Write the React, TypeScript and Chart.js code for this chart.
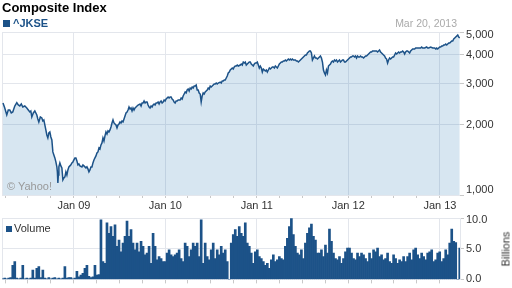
import React, { useEffect, useRef } from "react";
import { Chart, registerables } from "chart.js";

Chart.register(...registerables);

const FONT = "'Liberation Sans', Arial, Helvetica, sans-serif";
const LINE = "#1c5288";
const FILL = "rgba(40,120,180,0.19)";
const GRID = "#e3e6ec";
const TICK = "#c8c8c8";

// x axis: days counted from 2008-03-20
const START = Date.UTC(2008, 2, 20);
const END_DAY = 1828;
const dayOf = (y: number, m: number, d: number) =>
  Math.round((Date.UTC(y, m - 1, d) - START) / 86400000);

const tickYears = [2008, 2009, 2010, 2011, 2012, 2013];
const tickMonths = [1, 4, 7, 10];
const priceTicks = [1000, 2000, 3000, 4000, 5000];
const volumeTicks = [0, 5, 10];

// [day, close]
const priceSeries: [number, number][] = [
  [4, 2481], [11, 2361], [19, 2204], [25, 2315], [31, 2315], [37, 2248], [43, 2270], [51, 2408], [59, 2490], [65, 2432],
  [71, 2408], [77, 2456], [83, 2385], [91, 2408], [99, 2361], [105, 2315], [111, 2270], [115, 2292], [119, 2161], [125, 2248],
  [131, 2292], [139, 2204], [143, 2119], [147, 2057], [153, 2161], [159, 2140], [163, 2077], [167, 2098], [171, 1997], [175, 1901],
  [179, 1809], [183, 1757], [187, 1845], [191, 1864], [195, 1774], [199, 1722], [203, 1530], [207, 1485], [211, 1442], [215, 1386],
  [219, 1320], [221, 1256], [223, 1127], [225, 1219], [227, 1320], [231, 1373], [235, 1333], [239, 1307], [243, 1161], [247, 1184],
  [251, 1196], [255, 1256], [259, 1219], [263, 1281], [267, 1320], [271, 1333], [275, 1346], [279, 1373], [283, 1386], [287, 1414],
  [291, 1442], [295, 1442], [299, 1400], [303, 1346], [307, 1359], [311, 1333], [319, 1320], [323, 1346], [327, 1333], [331, 1320],
  [335, 1307], [339, 1320], [343, 1294], [347, 1256], [351, 1281], [355, 1320], [359, 1320], [363, 1373], [367, 1414], [371, 1442],
  [375, 1471], [379, 1515], [383, 1530], [387, 1592], [391, 1576], [395, 1640], [399, 1672], [403, 1757], [407, 1705], [411, 1792],
  [415, 1864], [419, 1827], [423, 1882], [427, 1864], [431, 1901], [435, 1958], [439, 2037], [443, 2098], [447, 2037], [451, 2017],
  [455, 1997], [459, 1939], [463, 1997], [467, 2017], [471, 2057], [475, 2037], [479, 2077], [483, 2057], [487, 2119], [491, 2182],
  [495, 2248], [499, 2270], [503, 2315], [507, 2385], [511, 2338], [515, 2361], [519, 2292], [523, 2361], [527, 2315], [531, 2361],
  [535, 2385], [539, 2408], [543, 2432], [551, 2456], [555, 2408], [559, 2481], [563, 2481], [567, 2530], [571, 2481], [575, 2505],
  [579, 2505], [583, 2432], [587, 2385], [591, 2361], [595, 2408], [599, 2385], [603, 2432], [607, 2456], [611, 2432], [615, 2481],
  [619, 2481], [623, 2505], [627, 2456], [631, 2505], [635, 2530], [639, 2481], [643, 2505], [647, 2555], [651, 2530], [655, 2580],
  [659, 2606], [663, 2632], [667, 2606], [671, 2632], [675, 2632], [679, 2580], [683, 2555], [687, 2505], [691, 2481], [695, 2530],
  [699, 2530], [703, 2555], [707, 2555], [711, 2555], [715, 2606], [719, 2580], [723, 2658], [727, 2711], [731, 2765], [735, 2738],
  [739, 2820], [743, 2848], [747, 2792], [751, 2876], [755, 2848], [759, 2905], [763, 2876], [767, 2933], [771, 2933], [775, 2963],
  [779, 2820], [783, 2820], [787, 2738], [791, 2711], [795, 2505], [799, 2658], [803, 2738], [807, 2711], [811, 2765], [815, 2792],
  [819, 2820], [823, 2876], [827, 2848], [831, 2933], [835, 2905], [839, 2933], [847, 2992], [851, 2992], [855, 3022], [859, 2992],
  [863, 3022], [871, 3051], [875, 3022], [879, 3082], [883, 3082], [887, 3112], [891, 3112], [895, 3174], [899, 3238], [903, 3335],
  [907, 3368], [911, 3435], [915, 3469], [919, 3504], [923, 3469], [927, 3538], [931, 3573], [935, 3573], [939, 3609], [943, 3573],
  [951, 3609], [955, 3645], [959, 3609], [963, 3717], [967, 3681], [971, 3717], [975, 3609], [979, 3645], [983, 3681], [987, 3717],
  [991, 3717], [995, 3645], [999, 3609], [1003, 3573], [1007, 3645], [1011, 3681], [1015, 3681], [1019, 3717], [1023, 3609], [1027, 3504],
  [1031, 3573], [1035, 3504], [1039, 3368], [1043, 3469], [1047, 3435], [1051, 3401], [1055, 3435], [1059, 3368], [1063, 3435], [1067, 3504],
  [1071, 3469], [1075, 3504], [1079, 3538], [1083, 3538], [1087, 3504], [1091, 3573], [1095, 3538], [1099, 3504], [1103, 3573], [1107, 3645],
  [1111, 3681], [1115, 3717], [1119, 3717], [1123, 3754], [1127, 3754], [1131, 3792], [1135, 3754], [1139, 3792], [1143, 3829], [1147, 3792],
  [1151, 3829], [1155, 3792], [1159, 3829], [1163, 3792], [1167, 3792], [1171, 3792], [1175, 3754], [1179, 3754], [1183, 3717], [1187, 3754],
  [1191, 3792], [1195, 3829], [1199, 3867], [1203, 3906], [1207, 3944], [1211, 3984], [1215, 3984], [1219, 4063], [1223, 4103], [1227, 4144],
  [1231, 4144], [1235, 4063], [1239, 3792], [1243, 3867], [1247, 3944], [1251, 3867], [1255, 3867], [1259, 3829], [1263, 3867], [1267, 3906],
  [1271, 3944], [1275, 3867], [1279, 3717], [1283, 3435], [1287, 3335], [1291, 3270], [1295, 3435], [1299, 3335], [1303, 3573], [1307, 3609],
  [1311, 3645], [1315, 3717], [1319, 3754], [1323, 3717], [1327, 3792], [1331, 3754], [1335, 3792], [1339, 3717], [1343, 3754], [1347, 3792],
  [1351, 3717], [1355, 3754], [1359, 3792], [1363, 3792], [1367, 3717], [1371, 3717], [1375, 3754], [1379, 3792], [1383, 3829], [1387, 3867],
  [1391, 3906], [1395, 3906], [1399, 3944], [1403, 3944], [1407, 3906], [1411, 3944], [1415, 3867], [1419, 3944], [1423, 3906], [1427, 3906],
  [1431, 3944], [1435, 3906], [1439, 3906], [1443, 3867], [1447, 3906], [1451, 3944], [1455, 3944], [1459, 3984], [1463, 4023], [1467, 4063],
  [1471, 4103], [1475, 4103], [1479, 4144], [1487, 4144], [1495, 4144], [1499, 4103], [1503, 4144], [1507, 4185], [1511, 4103], [1515, 4063],
  [1519, 4023], [1523, 3984], [1527, 3944], [1531, 3867], [1535, 3829], [1539, 3681], [1543, 3792], [1547, 3867], [1551, 3829], [1555, 3867],
  [1559, 3906], [1563, 3906], [1567, 3984], [1571, 4063], [1575, 4023], [1579, 4063], [1583, 4103], [1587, 4063], [1591, 4103], [1595, 4103],
  [1599, 4144], [1603, 4103], [1607, 4023], [1611, 4103], [1615, 4144], [1619, 4144], [1623, 4103], [1627, 4063], [1631, 4144], [1635, 4185],
  [1639, 4227], [1643, 4227], [1647, 4227], [1651, 4269], [1655, 4269], [1663, 4269], [1671, 4269], [1675, 4311], [1679, 4269], [1687, 4269],
  [1695, 4311], [1699, 4269], [1703, 4269], [1711, 4311], [1719, 4269], [1727, 4269], [1731, 4227], [1735, 4269], [1739, 4227], [1743, 4269],
  [1747, 4311], [1751, 4311], [1755, 4354], [1759, 4354], [1763, 4397], [1767, 4397], [1771, 4441], [1775, 4397], [1779, 4441], [1783, 4485],
  [1787, 4485], [1791, 4530], [1795, 4575], [1799, 4575], [1803, 4666], [1807, 4712], [1811, 4759], [1815, 4806], [1819, 4854], [1823, 4759],
  [1827, 4712],
];

// volume in billions, one bar every 8 days starting at day 3
const VOLUME_FIRST_DAY = 3;
const VOLUME_STEP_DAYS = 8;
const volumeValues = [
  0.1, 0.2, 0.1, 0.2, 0.3, 2.3, 2.9, 0.2, 0.1, 0.2,
  2.3, 0.1, 0.2, 0.1, 0.2, 1.5, 0.2, 1.8, 2.1, 0.3,
  1.5, 0.2, 0.1, 0.3, 0.1, 0.2, 0.3, 0.1, 0.2, 0.1,
  0.2, 2.1, 0.2, 0.3, 0.3, 0.1, 0.2, 1.3, 0.4, 0.7,
  1.0, 1.8, 2.3, 0.5, 0.3, 0.4, 2.3, 0.7, 0.8, 9.7,
  2.9, 2.6, 9.2, 7.5, 8.6, 7.0, 8.9, 5.4, 6.4, 4.5,
  5.9, 7.0, 9.5, 7.0, 8.1, 5.9, 4.8, 5.9, 4.5, 6.2,
  5.4, 4.0, 4.3, 5.4, 2.6, 7.5, 5.4, 3.2, 3.7, 3.4,
  2.9, 2.9, 4.3, 4.8, 4.0, 3.7, 4.0, 4.3, 4.8, 3.4,
  2.9, 5.9, 5.4, 3.7, 4.8, 5.9, 5.4, 5.9, 3.7, 9.7,
  2.6, 5.9, 3.7, 3.2, 4.8, 5.9, 3.4, 4.8, 4.0, 5.4,
  4.3, 4.8, 2.9, 0, 5.9, 7.3, 8.1, 7.0, 8.6, 7.5,
  7.0, 9.2, 5.9, 5.4, 4.3, 2.6, 4.5, 4.8, 3.7, 3.4,
  2.9, 2.3, 2.6, 1.8, 3.2, 4.0, 2.9, 3.2, 3.7, 3.4,
  3.2, 5.4, 6.7, 8.6, 9.9, 7.3, 5.4, 4.3, 4.0, 4.8,
  3.4, 5.9, 7.5, 8.4, 9.0, 7.0, 6.4, 4.3, 4.3, 4.8,
  3.7, 5.6, 4.3, 8.2, 6.2, 4.3, 3.4, 3.2, 3.7, 2.6,
  3.4, 4.5, 5.1, 5.1, 4.3, 3.4, 3.2, 4.3, 3.7, 4.3,
  4.0, 3.4, 2.9, 4.3, 3.4, 4.8, 4.5, 5.1, 3.7, 4.0,
  3.2, 3.4, 4.3, 2.9, 2.6, 4.0, 3.4, 2.6, 3.2, 2.9,
  3.7, 2.9, 3.7, 4.3, 3.2, 4.8, 5.1, 4.0, 3.4, 4.3,
  3.7, 3.2, 4.3, 4.5, 4.8, 2.9, 3.2, 4.3, 4.5, 2.9,
  3.4, 4.8, 4.0, 5.9, 8.2, 6.2, 6.0, 0, 5.1,
];

const janTicks = tickYears
  .map((y) => ({ day: dayOf(y, 1, 1), label: `Jan ${String(y).slice(2)}` }))
  .filter((t) => t.day > 0 && t.day <= END_DAY);
const quarterTicks = tickYears
  .flatMap((y) => tickMonths.map((m) => dayOf(y, m, 1)))
  .filter((d) => d > 0 && d <= END_DAY);
const xTickValues = [0, ...quarterTicks];
const janLabel = (v: number) => {
  const t = janTicks.find((j) => j.day === v);
  return t ? t.label : "";
};
const isGridDay = (v: number) => v === 0 || janTicks.some((j) => j.day === v);

// edge labels are nudged inward like the original: two-line label + small line height
function edgeLabel(text: string, atTop: boolean, atBottom: boolean) {
  if (atTop) return ["", text];
  if (atBottom) return [text, ""];
  return text;
}
function edgeFont(value: number, top: number, bottom: number, topShift: number, bottomShift: number) {
  let lh: any = 1.2;
  if (value === top) lh = `${topShift * 2}px`;
  else if (value === bottom) lh = `${bottomShift * 2}px`;
  return { size: 11, family: FONT, lineHeight: lh };
}

function xScale(height: number, showLabels: boolean, tickLength: number) {
  return {
    type: "linear" as const,
    min: 0,
    max: END_DAY,
    offset: false,
    afterBuildTicks: (s: any) => {
      s.ticks = xTickValues.map((v) => ({ value: v }));
    },
    afterFit: (s: any) => {
      s.height = height;
    },
    grid: {
      offset: false,
      color: (c: any) => (c.tick && isGridDay(c.tick.value) ? GRID : "rgba(0,0,0,0)"),
      tickColor: (c: any) => (c.tick && c.tick.value === 0 ? "rgba(0,0,0,0)" : TICK),
      tickLength,
      drawTicks: true,
    },
    border: { display: false },
    ticks: {
      display: showLabels,
      autoSkip: false,
      maxRotation: 0,
      minRotation: 0,
      padding: 1,
      color: "#333",
      font: { size: 11, family: FONT },
      callback: (v: any) => janLabel(Number(v)),
    },
  };
}

export default function App() {
  const mainRef = useRef<HTMLCanvasElement>(null);
  const volRef = useRef<HTMLCanvasElement>(null);

  useEffect(() => {
    Chart.defaults.font.family = FONT;
    Chart.defaults.font.size = 11;
    Chart.defaults.color = "#333";

    const main = new Chart(mainRef.current as HTMLCanvasElement, {
      type: "line",
      data: {
        datasets: [
          {
            data: priceSeries.map(([d, v]) => ({ x: d, y: v })),
            borderColor: LINE,
            borderWidth: 1.5,
            backgroundColor: FILL,
            fill: "start",
            pointRadius: 0,
            tension: 0,
          },
        ],
      },
      options: {
        animation: false,
        responsive: false,
        devicePixelRatio: 1,
        layout: { padding: { left: 2, right: 0, top: 32, bottom: 0 } },
        plugins: { legend: { display: false }, tooltip: { enabled: false }, title: { display: false } },
        scales: {
          x: xScale(15, true, 3) as any,
          y: {
            type: "logarithmic",
            position: "right",
            min: 1000,
            max: 5000,
            afterBuildTicks: (s: any) => {
              s.ticks = priceTicks.map((v) => ({ value: v }));
            },
            afterFit: (s: any) => {
              s.width = 52;
            },
            grid: { color: GRID, tickColor: TICK, tickLength: 4, drawTicks: true },
            border: { display: false },
            ticks: {
              padding: 2,
              color: "#333",
              font: (c: any) => edgeFont(c.tick ? c.tick.value : 0, 5000, 1000, 3, 5),
              callback: (v: any) =>
                edgeLabel(Number(v).toLocaleString("en-US"), Number(v) === 5000, Number(v) === 1000),
            },
          } as any,
        },
      },
    });

    const vol = new Chart(volRef.current as HTMLCanvasElement, {
      type: "bar",
      data: {
        datasets: [
          {
            data: volumeValues.map((v, i) => ({ x: VOLUME_FIRST_DAY + i * VOLUME_STEP_DAYS, y: v })),
            backgroundColor: LINE,
            borderWidth: 0,
            barPercentage: 1,
            categoryPercentage: 1,
          },
        ],
      },
      options: {
        animation: false,
        responsive: false,
        devicePixelRatio: 1,
        layout: { padding: { left: 2, right: 0, top: 8, bottom: 0 } },
        plugins: { legend: { display: false }, tooltip: { enabled: false }, title: { display: false } },
        scales: {
          x: xScale(7, false, 4) as any,
          y: {
            type: "linear",
            position: "right",
            min: 0,
            max: 10,
            afterBuildTicks: (s: any) => {
              s.ticks = volumeTicks.map((v) => ({ value: v }));
            },
            afterFit: (s: any) => {
              s.width = 52;
            },
            grid: { color: GRID, tickColor: TICK, tickLength: 4, drawTicks: true },
            border: { display: true, color: GRID },
            ticks: {
              padding: 2,
              color: "#333",
              font: (c: any) => edgeFont(c.tick ? c.tick.value : 0, 10, -1, 2, 1),
              callback: (v: any) => edgeLabel(Number(v).toFixed(1), Number(v) === 10, false),
            },
          } as any,
        },
      },
    });

    return () => {
      main.destroy();
      vol.destroy();
    };
  }, []);

  const abs = (s: React.CSSProperties): React.CSSProperties => ({ position: "absolute", ...s });

  return (
    <div
      style={{
        position: "fixed",
        left: 0,
        top: 0,
        width: 512,
        height: 288,
        background: "#fff",
        overflow: "hidden",
        fontFamily: FONT,
      }}
    >
      <canvas ref={mainRef} width={512} height={210} style={abs({ left: 0, top: 0, width: 512, height: 210 })} />
      <canvas ref={volRef} width={512} height={78} style={abs({ left: 0, top: 210, width: 512, height: 78 })} />

      <div style={abs({ left: 2, top: 0, fontSize: 13, lineHeight: "15px", fontWeight: "bold", color: "#000", whiteSpace: "nowrap" })}>
        Composite Index
      </div>
      <div style={abs({ left: 3, top: 20, width: 7, height: 7, background: LINE })} />
      <div style={abs({ left: 13, top: 17, fontSize: 11, lineHeight: "13px", fontWeight: "bold", color: LINE, whiteSpace: "nowrap" })}>
        ^JKSE
      </div>
      <div style={abs({ right: 55, top: 17, fontSize: 10.5, lineHeight: "13px", color: "#aaa", whiteSpace: "nowrap" })}>
        Mar 20, 2013
      </div>
      <div style={abs({ left: 7, top: 180, fontSize: 11, lineHeight: "13px", color: "#999", whiteSpace: "nowrap" })}>
        © Yahoo!
      </div>
      <div style={abs({ left: 6, top: 226, width: 6, height: 6, background: LINE })} />
      <div style={abs({ left: 14, top: 222, fontSize: 11, lineHeight: "13px", color: "#333", whiteSpace: "nowrap" })}>
        Volume
      </div>
      <div
        style={abs({
          left: 506,
          top: 249,
          fontSize: 11,
          lineHeight: "13px",
          color: "#333",
          whiteSpace: "nowrap",
          transform: "translate(-50%, -50%) rotate(-90deg)",
        })}
      >
        Billions
      </div>
    </div>
  );
}
